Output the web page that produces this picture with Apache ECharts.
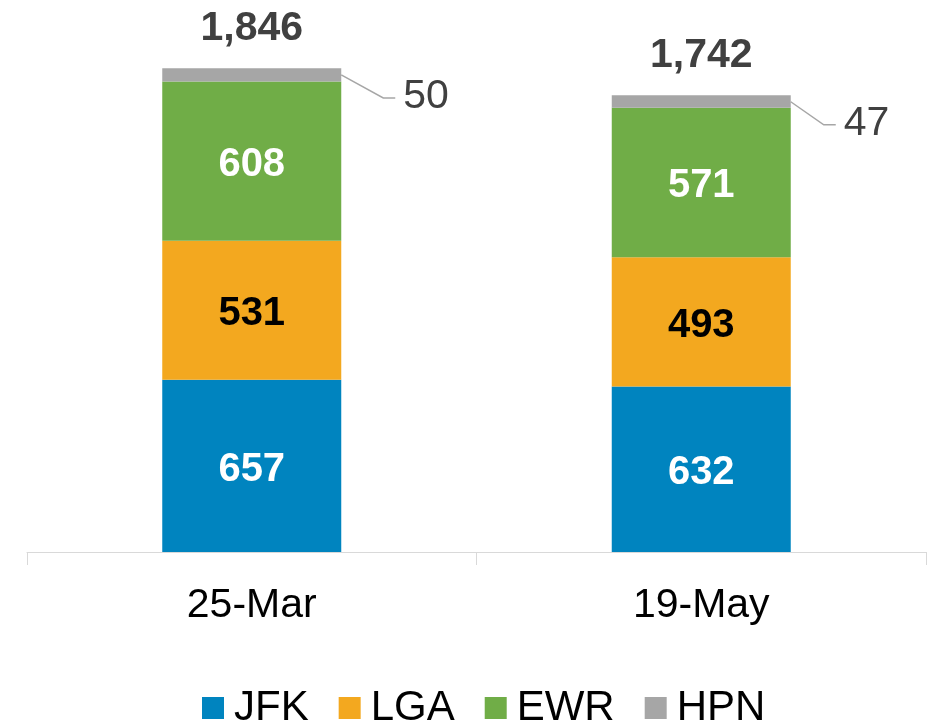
<!DOCTYPE html>
<html>
<head>
<meta charset="utf-8">
<script src="https://cdn.jsdelivr.net/npm/echarts@6/dist/echarts.min.js"></script>
<style>
  html, body { margin: 0; padding: 0; background: #fff; }
  #main { width: 928px; height: 728px; }
</style>
</head>
<body>
<div id="main"></div>
<script>
var categories = ['25-Mar', '19-May'];
var jfk = [657, 632];
var lga = [531, 493];
var ewr = [608, 571];
var hpn = [50, 47];
var totals = [1846, 1742];

var font = 'Liberation Sans, Arial, sans-serif';
var barW = 179;
// leader line shape for the HPN callouts (diag dx, diag dy)
var leader = [[42, 23], [33, 23]];

var myChart = echarts.init(document.getElementById('main'));

function seg(name, values, color, labelColor) {
    return {
        name: name,
        type: 'bar',
        stack: 'all',
        barWidth: barW,
        data: values,
        itemStyle: { color: color },
        label: {
            show: true,
            position: 'inside',
            offset: [0, 4],
            fontFamily: font,
            fontSize: 40,
            fontWeight: 'bold',
            color: labelColor
        }
    };
}

myChart.setOption({
    backgroundColor: '#fff',
    animation: false,
    grid: { left: 27, right: 2, top: 28, bottom: 176 },
    legend: {
        left: 202,
        top: 687,
        padding: 0,
        icon: 'rect',
        itemWidth: 22,
        itemHeight: 22,
        itemGap: 30,
        textStyle: { fontFamily: font, fontSize: 42, color: '#000', padding: [0, 0, 0, 5] },
        data: ['JFK', 'LGA', 'EWR', 'HPN']
    },
    xAxis: {
        type: 'category',
        data: categories,
        axisLine: { lineStyle: { color: '#d9d9d9', width: 1 } },
        axisTick: { show: true, length: 13, lineStyle: { color: '#d9d9d9' } },
        axisLabel: { fontFamily: font, fontSize: 41, color: '#000', margin: 33 }
    },
    yAxis: {
        type: 'value',
        min: 0,
        max: 2000,
        show: false,
        splitLine: { show: false }
    },
    series: [
        seg('JFK', jfk, '#0084bf', '#fff'),
        seg('LGA', lga, '#f3a81f', '#000'),
        seg('EWR', ewr, '#70ad47', '#fff'),
        {
            name: 'HPN',
            type: 'bar',
            stack: 'all',
            barWidth: barW,
            data: hpn,
            itemStyle: { color: '#a6a6a6' }
        },
        {
            name: 'Total',
            type: 'bar',
            stack: 'all',
            barWidth: barW,
            data: [0, 0],
            label: {
                show: true,
                position: 'top',
                distance: 19,
                fontFamily: font,
                fontSize: 41,
                fontWeight: 'bold',
                color: '#404040',
                formatter: function (p) { return totals[p.dataIndex].toLocaleString('en-US'); }
            }
        },
        {
            name: 'HPN label',
            type: 'custom',
            silent: true,
            data: categories.map(function (c, i) { return [i, totals[i] - hpn[i] / 2, hpn[i]]; }),
            renderItem: function (params, api) {
                var i = params.dataIndex;
                var p = api.coord([api.value(0), api.value(1)]);
                var x0 = p[0] + barW / 2, y0 = p[1];
                var x1 = x0 + leader[i][0], y1 = y0 + leader[i][1];
                var x2 = x1 + 12;
                return {
                    type: 'group',
                    children: [{
                        type: 'polyline',
                        shape: { points: [[x0, y0], [x1, y1], [x2, y1]] },
                        style: { stroke: '#a6a6a6', lineWidth: 1.5, fill: null }
                    }, {
                        type: 'text',
                        style: {
                            x: x2 + 8,
                            y: y1 - 1,
                            text: String(api.value(2)),
                            fontFamily: font,
                            fontSize: 41,
                            fill: '#404040',
                            verticalAlign: 'middle',
                            align: 'left'
                        }
                    }]
                };
            }
        }
    ]
});
</script>
</body>
</html>
